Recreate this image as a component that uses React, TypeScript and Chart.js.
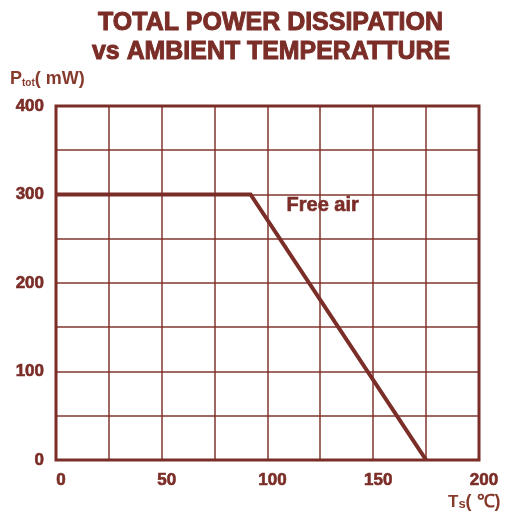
import React, { useEffect, useRef } from "react";
import { Chart, registerables } from "chart.js";

Chart.register(...registerables);

const TITLE_LINES = ["TOTAL POWER DISSIPATION", "vs AMBIENT TEMPERATTURE"];
const curveTemp = [0, 92, 175];
const curvePower = [300, 300, 0];
const xRange = [0, 200];
const yRange = [0, 400];
const xGridStep = 25;
const yGridStep = 50;
const xLabelStep = 50;
const yLabelStep = 100;
const annotationText = "Free air";
const annotationAt = [109, 288];

const RED = "#7b2d27";
const GRID = "rgba(123,45,39,0.72)";
const LABEL = "#853a2c";
const FONT = '"Liberation Sans", Arial, sans-serif';

function fitText(ctx: CanvasRenderingContext2D, text: string, cx: number, cy: number, width: number, font: string) {
  ctx.save();
  ctx.font = font;
  const w = ctx.measureText(text).width;
  ctx.translate(cx, cy);
  ctx.scale(width / w, 1);
  ctx.textAlign = "center";
  ctx.textBaseline = "middle";
  ctx.lineWidth = 1;
  ctx.strokeStyle = ctx.fillStyle as string;
  ctx.fillText(text, 0, 0);
  ctx.strokeText(text, 0, 0);
  ctx.restore();
}

const framePlugin = {
  id: "frame",
  beforeDatasetsDraw(chart: any) {
    const { ctx, chartArea: a } = chart;
    ctx.save();
    ctx.strokeStyle = RED;
    ctx.lineWidth = 3;
    ctx.strokeRect(a.left, a.top, a.right - a.left, a.bottom - a.top);
    ctx.restore();
  },
};

const textPlugin = {
  id: "texts",
  afterDraw(chart: any) {
    const ctx: CanvasRenderingContext2D = chart.ctx;
    ctx.save();
    ctx.fillStyle = RED;
    fitText(ctx, TITLE_LINES[0], 270.5, 23, 345, `bold 26px ${FONT}`);
    fitText(ctx, TITLE_LINES[1], 271, 52, 358, `bold 26px ${FONT}`);

    // y axis title: P_tot( mW)
    ctx.fillStyle = LABEL;
    ctx.textBaseline = "alphabetic";
    ctx.textAlign = "left";
    let x = 10;
    const base = 84;
    ctx.font = `bold 18px ${FONT}`;
    ctx.fillText("P", x, base);
    x += ctx.measureText("P").width;
    ctx.font = `bold 10px ${FONT}`;
    ctx.fillText("tot", x, base + 2);
    x += ctx.measureText("tot").width;
    ctx.font = `bold 18px ${FONT}`;
    ctx.fillText("( mW)", x, base);

    // x axis title: Ts( ℃)
    x = 448;
    const base2 = 507;
    ctx.font = `bold 17px ${FONT}`;
    ctx.fillText("T", x, base2);
    x += ctx.measureText("T").width;
    ctx.font = `bold 13px ${FONT}`;
    ctx.fillText("s", x, base2 + 1);
    x += ctx.measureText("s").width;
    ctx.font = `bold 18px ${FONT}`;
    ctx.fillText("( ℃)", x, base2);

    // annotation
    const xs = chart.scales.x;
    const ys = chart.scales.y;
    ctx.fillStyle = RED;
    ctx.strokeStyle = RED;
    ctx.lineWidth = 0.6;
    ctx.font = `bold 20px ${FONT}`;
    ctx.textBaseline = "middle";
    const px = xs.getPixelForValue(annotationAt[0]);
    const py = ys.getPixelForValue(annotationAt[1]);
    ctx.fillText(annotationText, px, py);
    ctx.strokeText(annotationText, px, py);
    ctx.restore();
  },
};

export default function App() {
  const ref = useRef<HTMLCanvasElement | null>(null);
  useEffect(() => {
    if (!ref.current) return;
    const chart = new Chart(ref.current, {
      type: "line",
      data: {
        datasets: [
          {
            data: curveTemp.map((t, i) => ({ x: t, y: curvePower[i] })),
            borderColor: RED,
            borderWidth: 4,
            pointRadius: 0,
            fill: false,
            tension: 0,
          },
        ],
      },
      options: {
        responsive: false,
        animation: false,
        layout: { padding: { left: 0, top: 106, right: 27, bottom: 25 } },
        plugins: { legend: { display: false }, title: { display: false }, tooltip: { enabled: false } },
        scales: {
          x: {
            type: "linear",
            min: xRange[0],
            max: xRange[1],
            border: { display: false },
            grid: { color: GRID, lineWidth: 2, drawTicks: false },
            ticks: {
              stepSize: xGridStep,
              autoSkip: false,
              maxRotation: 0,
              padding: 10,
              labelOffset: 5,
              color: RED,
              textStrokeColor: RED,
              textStrokeWidth: 0.6,
              font: { family: FONT, size: 17, weight: "bold" },
              callback: (v: any) => (Number(v) % xLabelStep === 0 ? String(v) : ""),
            },
            afterFit: (s: any) => {
              s.height = 30;
            },
          },
          y: {
            type: "linear",
            min: yRange[0],
            max: yRange[1],
            border: { display: false },
            grid: { color: GRID, lineWidth: 2, drawTicks: false },
            ticks: {
              stepSize: yGridStep,
              autoSkip: false,
              padding: 12,
              color: RED,
              textStrokeColor: RED,
              textStrokeWidth: 0.6,
              font: { family: FONT, size: 17, weight: "bold" },
              callback: (v: any) => (Number(v) % yLabelStep === 0 ? String(v) : ""),
            },
            afterFit: (s: any) => {
              s.width = 56;
            },
          },
        },
      } as any,
      plugins: [framePlugin, textPlugin],
    });
    return () => chart.destroy();
  }, []);
  return (
    <div style={{ position: "absolute", left: 0, top: 0, width: 506, height: 515, background: "#fff" }}>
      <canvas ref={ref} width={506} height={515} />
    </div>
  );
}
